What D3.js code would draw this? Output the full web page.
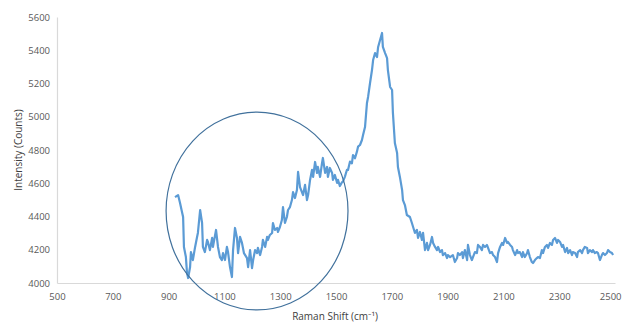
<!DOCTYPE html>
<html>
<head>
<meta charset="utf-8">
<script src="https://cdn.jsdelivr.net/npm/d3@7"></script>
<style>
  body { margin: 0; background: #fff; }
  text { font-family: "Open Sans", "Noto Sans", sans-serif; }
</style>
</head>
<body>
<div class="chart"></div>
<script>
var svgWidth = 623;
var svgHeight = 325;

var margin = { top: 17, right: 8, bottom: 42, left: 57 };
var width = 615 - margin.left;
var height = 283 - margin.top;

// Raman shift (cm-1)
var shift = [923, 934, 941, 948, 952, 955, 962, 966, 970, 977, 980, 987, 995, 1002, 1005, 1013, 1020, 1023, 1030, 1038,
  1041, 1048, 1056, 1059, 1070, 1077, 1084, 1091, 1095, 1102, 1109, 1113, 1120, 1127, 1131, 1138, 1145, 1149, 1156, 1163,
  1170, 1181, 1185, 1192, 1199, 1203, 1210, 1217, 1220, 1228, 1235, 1238, 1246, 1253, 1256, 1263, 1271, 1274, 1281, 1289,
  1292, 1299, 1306, 1310, 1317, 1324, 1328, 1335, 1342, 1346, 1353, 1360, 1364, 1371, 1382, 1389, 1396, 1400, 1407, 1414,
  1418, 1425, 1432, 1435, 1443, 1450, 1453, 1461, 1468, 1471, 1478, 1486, 1489, 1496, 1504, 1507, 1514, 1521, 1525, 1532,
  1539, 1543, 1550, 1557, 1561, 1568, 1575, 1579, 1586, 1593, 1597, 1604, 1611, 1615, 1622, 1629, 1633, 1640, 1647, 1651,
  1658, 1665, 1668, 1676, 1683, 1686, 1694, 1701, 1704, 1711, 1719, 1722, 1729, 1737, 1740, 1747, 1754, 1765, 1772, 1783,
  1790, 1794, 1801, 1808, 1812, 1819, 1826, 1830, 1837, 1844, 1848, 1855, 1862, 1866, 1873, 1880, 1883, 1891, 1898, 1901,
  1909, 1919, 1926, 1934, 1937, 1944, 1952, 1955, 1962, 1970, 1973, 1980, 1987, 1991, 1998, 2005, 2009, 2016, 2023, 2027,
  2034, 2041, 2045, 2052, 2059, 2063, 2070, 2077, 2081, 2088, 2095, 2099, 2106, 2113, 2116, 2124, 2131, 2134, 2142, 2149,
  2152, 2159, 2167, 2170, 2177, 2185, 2188, 2195, 2202, 2206, 2213, 2220, 2224, 2231, 2238, 2242, 2249, 2256, 2260, 2267,
  2274, 2278, 2285, 2292, 2296, 2303, 2310, 2314, 2321, 2328, 2332, 2339, 2346, 2349, 2357, 2364, 2367, 2375, 2382, 2385,
  2392, 2400, 2403, 2410, 2418, 2421, 2428, 2435, 2439, 2446, 2453, 2457, 2464, 2471, 2475, 2482, 2489, 2493];

// Intensity (counts)
var counts = [4517, 4529, 4481, 4427, 4397, 4217, 4156, 4060, 4030, 4096, 4186, 4138, 4217, 4277, 4301, 4439, 4361, 4217, 4186, 4259,
  4247, 4198, 4271, 4217, 4319, 4217, 4156, 4138, 4180, 4138, 4217, 4186, 4096, 4036, 4198, 4331, 4271, 4180, 4277, 4241,
  4180, 4150, 4096, 4198, 4090, 4138, 4198, 4180, 4211, 4168, 4217, 4259, 4217, 4277, 4259, 4289, 4301, 4361, 4319, 4331,
  4307, 4337, 4379, 4457, 4361, 4397, 4439, 4457, 4499, 4547, 4511, 4559, 4668, 4577, 4529, 4590, 4499, 4529, 4620, 4680,
  4638, 4728, 4662, 4698, 4638, 4722, 4752, 4662, 4698, 4638, 4692, 4662, 4620, 4650, 4602, 4620, 4583, 4605, 4610, 4640,
  4680, 4680, 4730, 4720, 4770, 4750, 4790, 4820, 4830, 4860, 4890, 4938, 5083, 5119, 5203, 5281, 5341, 5383, 5359, 5420,
  5462, 5504, 5420, 5383, 5353, 5281, 5179, 5161, 5023, 4842, 4782, 4698, 4638, 4559, 4499, 4469, 4409, 4397, 4361, 4301,
  4319, 4271, 4307, 4259, 4301, 4198, 4241, 4198, 4229, 4277, 4241, 4217, 4198, 4217, 4186, 4198, 4168, 4180, 4150, 4168,
  4156, 4168, 4126, 4150, 4180, 4168, 4186, 4150, 4198, 4138, 4229, 4168, 4138, 4156, 4186, 4180, 4229, 4217, 4198, 4229,
  4217, 4229, 4211, 4180, 4186, 4168, 4156, 4126, 4180, 4217, 4241, 4229, 4271, 4241, 4247, 4229, 4217, 4198, 4168, 4198,
  4180, 4186, 4156, 4186, 4156, 4180, 4198, 4156, 4126, 4120, 4138, 4150, 4156, 4150, 4198, 4180, 4217, 4229, 4211, 4241,
  4229, 4259, 4271, 4241, 4259, 4247, 4217, 4229, 4186, 4211, 4180, 4198, 4168, 4186, 4180, 4156, 4186, 4198, 4180, 4198,
  4217, 4211, 4180, 4198, 4186, 4198, 4180, 4186, 4180, 4138, 4168, 4180, 4168, 4180, 4198, 4186, 4180, 4168];

var xTicks = [500, 700, 900, 1100, 1300, 1500, 1700, 1900, 2100, 2300, 2500];
var yTicks = [4000, 4200, 4400, 4600, 4800, 5000, 5200, 5400, 5600];

// highlighted region (centre and half widths, data units)
var ringCentre = [1217, 4433];
var ringRadius = [326, 595];

var data = shift.map((s, i) => ({ x: s, y: counts[i] }));

var svg = d3.select(".chart")
  .append("svg")
  .attr("width", svgWidth)
  .attr("height", svgHeight);

var chartGroup = svg.append("g")
  .attr("transform", `translate(${margin.left}, ${margin.top})`);

var xScale = d3.scaleLinear().domain([500, 2500]).range([0, width]);
var yScale = d3.scaleLinear().domain([4000, 5600]).range([height, 0]);

var bottomAxis = d3.axisBottom(xScale).tickValues(xTicks).tickFormat(d3.format("d")).tickSize(0).tickPadding(10);
var leftAxis = d3.axisLeft(yScale).tickValues(yTicks).tickFormat(d3.format("d")).tickSize(0).tickPadding(7);

var xAxis = chartGroup.append("g")
  .attr("transform", `translate(0,${height})`)
  .call(bottomAxis);
var yAxis = chartGroup.append("g").call(leftAxis);

[xAxis, yAxis].forEach(function (ax) {
  ax.select(".domain").attr("stroke", "#d9d9d9").attr("stroke-width", 1.2);
  ax.selectAll("text")
    .attr("fill", "#595959")
    .style("font-size", "9.5px")
    .style("font-family", "'Open Sans', sans-serif");
});

// last label sits at the window edge; pull it inside
xAxis.selectAll(".tick:last-of-type text")
  .attr("text-anchor", "end")
  .attr("dx", "6px");

var line = d3.line()
  .x(d => xScale(d.x))
  .y(d => yScale(d.y));

chartGroup.append("path")
  .datum(data)
  .attr("fill", "none")
  .attr("stroke", "#5b9bd5")
  .attr("stroke-width", 2.2)
  .attr("stroke-linejoin", "round")
  .attr("d", line);

chartGroup.append("ellipse")
  .attr("cx", xScale(ringCentre[0]))
  .attr("cy", yScale(ringCentre[1]))
  .attr("rx", xScale(ringCentre[0] + ringRadius[0]) - xScale(ringCentre[0]))
  .attr("ry", yScale(ringCentre[1]) - yScale(ringCentre[1] + ringRadius[1]))
  .attr("fill", "none")
  .attr("stroke", "#41719c")
  .attr("stroke-width", 1.2);

chartGroup.append("text")
  .attr("transform", "rotate(-90)")
  .attr("x", -(150 - margin.top))
  .attr("y", 18 - margin.left)
  .attr("dy", "0.35em")
  .attr("text-anchor", "middle")
  .attr("fill", "#404040")
  .style("font-size", "10px")
  .text("Intensity (Counts)");

chartGroup.append("text")
  .attr("x", 335 - margin.left)
  .attr("y", 316 - margin.top)
  .attr("dy", "0.35em")
  .attr("text-anchor", "middle")
  .attr("fill", "#404040")
  .style("font-size", "10px")
  .text("Raman Shift (cm\u207B\u00B9)");
</script>
</body>
</html>
